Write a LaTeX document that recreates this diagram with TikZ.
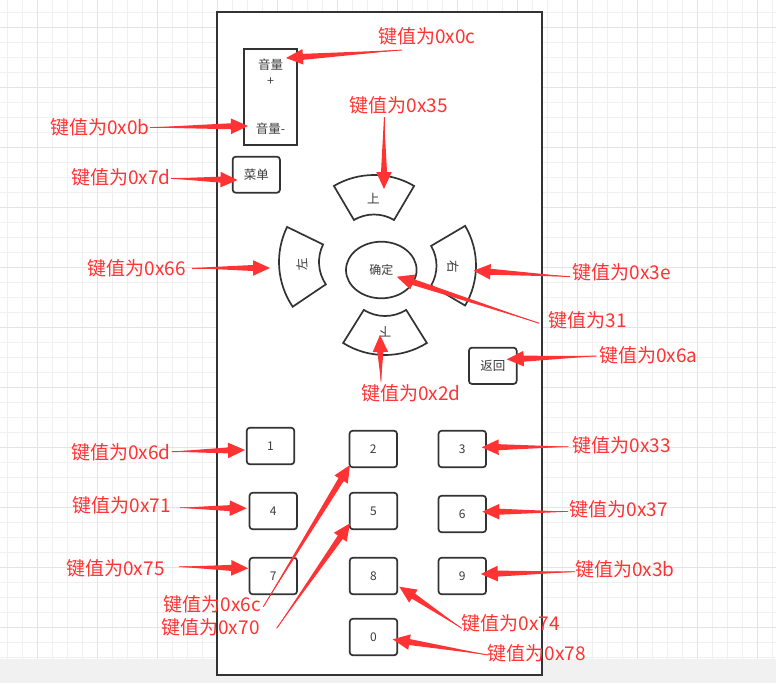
\documentclass[tikz,border=0pt]{standalone}
\usepackage{fontspec}
\newfontfamily\cjk{Noto Sans CJK SC}
\usetikzlibrary{calc,shapes.geometric}
\definecolor{keyred}{RGB}{255,51,51}
\definecolor{keydark}{RGB}{51,51,51}
\definecolor{keytext}{RGB}{60,60,60}
\newcommand\keyarrow[2]{%
  \path ($(#2)!17pt!(#1)$) coordinate (ka-b);
  \fill[keyred] (#1) -- ($(ka-b)!3pt!90:(#2)$) -- ($(ka-b)!7.8pt!90:(#2)$) -- (#2)
     -- ($(ka-b)!7.8pt!-90:(#2)$) -- ($(ka-b)!3pt!-90:(#2)$) -- cycle;
  \draw[keyred, line width=0.9pt] (#1) -- (ka-b);
}
\tikzset{
  gridminor/.style={draw=gray!12, line width=1pt},
  gridmajor/.style={draw=gray!21, line width=1pt},
  keyline/.style={draw=keydark, line width=1.7pt},
  keybtn/.style={keyline, rounded corners=3pt, fill=white, minimum width=47.5pt, minimum height=36.5pt,
     inner sep=0pt, text=keytext, font=\cjk\fontsize{12}{14}\selectfont},
  btntext/.style={inner sep=0pt, text=keytext, font=\cjk\fontsize{12.5}{14}\selectfont},
  keylabel/.style={inner sep=0pt, text=keyred, font=\cjk\fontsize{19}{21}\selectfont},
}
\begin{document}
\begin{tikzpicture}[x=1pt,y=1pt]
\useasboundingbox (0,0) rectangle (776,-683);
% background grid
\fill[white] (0,0) rectangle (776,-659);
\foreach \i in {0,...,51} { \draw[gridminor] ({7.3+15*\i},0) -- ({7.3+15*\i},-659); }
\foreach \i in {0,...,43} { \draw[gridminor] (0,{-12.3-15*\i}) -- (776,{-12.3-15*\i}); }
\foreach \i in {0,...,12} { \draw[gridmajor] ({37.3+60*\i},0) -- ({37.3+60*\i},-659); }
\foreach \i in {0,...,10} { \draw[gridmajor] (0,{-27.3-60*\i}) -- (776,{-27.3-60*\i}); }
\fill[gray!11] (0,-659) rectangle (776,-683);
% remote body
\draw[keyline, line width=2pt, fill=white] (217,-12) rectangle (542,-675);
% volume
\node[keyline, minimum width=53pt, minimum height=96pt, inner sep=0pt] (vol) at (270.5,-97) {};
\node[btntext] (volup) at (270.5,-65) {音量};
\node[btntext] (volplus) at (270.5,-81.5) {+};
\node[btntext] (voldown) at (270.5,-129) {音量-};
% menu and back
\node[keybtn, font=\cjk\fontsize{12.5}{14}\selectfont, minimum width=47.3pt, minimum height=36pt] (menu) at (256.3,-174.7) {菜单};
\node[keybtn, font=\cjk\fontsize{12.5}{14}\selectfont, minimum width=47.7pt, minimum height=36.3pt] (back) at (492.8,-365.8) {返回};
% d-pad sectors
\draw[keyline] ($(374,-254)+(59.5:39.5)$) arc[start angle=59.5, end angle=120.5, radius=39.5]
   -- ($(374,-254)+(120.5:79)$) arc[start angle=120.5, end angle=59.5, radius=79] -- cycle;
\draw[keyline] ($(385,-276)+(238:40)$) arc[start angle=238, end angle=302, radius=40]
   -- ($(385,-276)+(302:79)$) arc[start angle=302, end angle=238, radius=79] -- cycle;
\draw[keyline] ($(359,-262)+(154:40)$) arc[start angle=154, end angle=214, radius=40]
   -- ($(359,-262)+(214:80)$) arc[start angle=214, end angle=154, radius=80] -- cycle;
\draw[keyline] ($(397.5,-265.7)+(-30.5:39)$) arc[start angle=-30.5, end angle=30.5, radius=39]
   -- ($(397.5,-265.7)+(30.5:78.5)$) arc[start angle=30.5, end angle=-30.5, radius=78.5] -- cycle;
\node[btntext] (kup) at (373.3,-198.3) {上};
\node[btntext, rotate=180] (kdown) at (385,-331.7) {下};
\node[btntext, rotate=94] (kleft) at (301.7,-265) {左};
\node[btntext, rotate=-90] (kright) at (453.3,-266.7) {右};
\node[keyline, ellipse, minimum width=70.6pt, minimum height=56.6pt, inner sep=0pt,
      text=keytext, font=\cjk\fontsize{12}{14}\selectfont] (ok) at (381.3,-270) {确定};
% number keys
\node[keybtn] (k1) at (270.5,-446) {1};
\node[keybtn] (k2) at (373.3,-449) {2};
\node[keybtn] (k3) at (462.3,-449) {3};
\node[keybtn] (k4) at (273.3,-511) {4};
\node[keybtn] (k5) at (373.5,-511) {5};
\node[keybtn] (k6) at (462.3,-514) {6};
\node[keybtn] (k7) at (273.3,-576) {7};
\node[keybtn] (k8) at (373.5,-576) {8};
\node[keybtn] (k9) at (462.3,-576) {9};
\node[keybtn] (k0) at (373.5,-637) {0};
% labels
\node[keylabel] (l0c) at (427,-36) {键值为0x0c};
\node[keylabel] (l35) at (398.7,-105) {键值为0x35};
\node[keylabel] (l0b) at (100,-127) {键值为0x0b};
\node[keylabel] (l7d) at (121,-177) {键值为0x7d};
\node[keylabel] (l66) at (137,-268) {键值为0x66};
\node[keylabel] (l3e) at (621.7,-272) {键值为0x3e};
\node[keylabel] (l31) at (587.5,-320) {键值为31};
\node[keylabel] (l6a) at (648.3,-355) {键值为0x6a};
\node[keylabel] (l2d) at (411,-393) {键值为0x2d};
\node[keylabel] (l6d) at (121,-452) {键值为0x6d};
\node[keylabel] (l71) at (122,-505.7) {键值为0x71};
\node[keylabel] (l75) at (115.5,-568) {键值为0x75};
\node[keylabel] (l6c) at (212.5,-604) {键值为0x6c};
\node[keylabel] (l70) at (210.5,-627) {键值为0x70};
\node[keylabel] (l33) at (621.7,-445) {键值为0x33};
\node[keylabel] (l37) at (618.8,-509) {键值为0x37};
\node[keylabel] (l3b) at (625,-569) {键值为0x3b};
\node[keylabel] (l74) at (511,-623) {键值为0x74};
\node[keylabel] (l78) at (537,-653.5) {键值为0x78};
% arrow ends
\coordinate (t0c) at (402,-50);     \coordinate (h0c) at (286,-58);
\coordinate (t35) at (384,-117);    \coordinate (h35) at (384,-189);
\coordinate (t0b) at (150,-127.5);  \coordinate (h0b) at (248,-126);
\coordinate (t7d) at (171,-178.5);  \coordinate (h7d) at (237.5,-180);
\coordinate (t66) at (192,-268);    \coordinate (h66) at (270,-268);
\coordinate (t3e) at (570,-276.7);  \coordinate (h3e) at (473.5,-270.7);
\coordinate (t31) at (539.3,-323.3);\coordinate (h31) at (396.7,-276.7);
\coordinate (t6a) at (596.7,-356);  \coordinate (h6a) at (506.7,-359.3);
\coordinate (t2d) at (381,-381.7);  \coordinate (h2d) at (380,-335);
\coordinate (t6d) at (171.7,-451.7);\coordinate (h6d) at (245,-450);
\coordinate (t71) at (180,-507.7);  \coordinate (h71) at (246.7,-508.3);
\coordinate (t75) at (179,-566.7);  \coordinate (h75) at (248.3,-568.3);
\coordinate (t6c) at (263.3,-606.7);\coordinate (h6c) at (350,-465);
\coordinate (t70) at (276.7,-628.3);\coordinate (h70) at (350,-523.3);
\coordinate (t33) at (568.3,-446.7);\coordinate (h33) at (481.7,-447.3);
\coordinate (t37) at (568.3,-511.7);\coordinate (h37) at (482.3,-511.7);
\coordinate (t3b) at (575,-571.7);  \coordinate (h3b) at (480.7,-574);
\coordinate (t74) at (461.7,-628.3);\coordinate (h74) at (399.3,-586.7);
\coordinate (t78) at (488.3,-655);  \coordinate (h78) at (392.7,-639.3);
\foreach \k in {0c,35,0b,7d,66,3e,31,6a,2d,6d,71,75,6c,70,33,37,3b,74,78} { \keyarrow{t\k}{h\k} }
\end{tikzpicture}
\end{document}
